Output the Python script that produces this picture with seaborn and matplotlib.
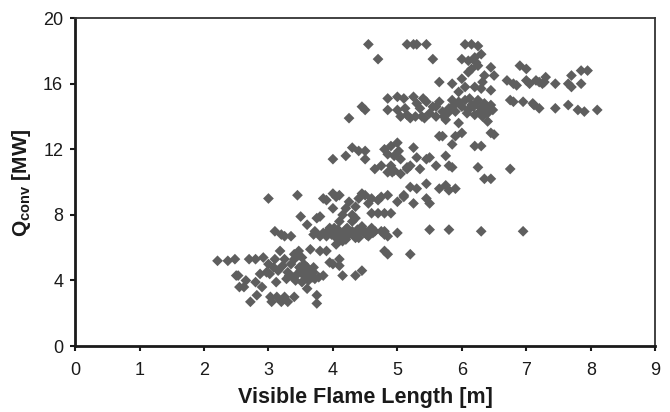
import matplotlib
matplotlib.use('Agg')
import matplotlib.pyplot as plt
import seaborn as sns
import pandas as pd

# visible flame length [m] / convective HRR [MW]
low_x = [2.21, 2.37, 2.48, 2.5, 2.53, 2.55, 2.62, 2.65, 2.7, 2.72, 2.8, 2.8, 2.82, 2.87, 2.9,
         2.92, 2.97, 3.0, 3.0, 3.02, 3.03, 3.05, 3.1, 3.12, 3.13, 3.18, 3.2, 3.25, 3.25, 3.28,
         3.3, 3.3, 3.35, 3.38, 3.4, 3.4, 3.45, 3.47, 3.5, 3.52, 3.55, 3.58, 3.6, 3.62, 3.65,
         3.7, 3.72, 3.75, 3.75, 3.78, 3.8, 3.85, 3.45, 3.5, 3.1, 3.2, 3.25, 3.35, 3.45, 3.55,
         3.6, 3.08, 3.15, 3.22, 3.32, 3.42, 3.48, 3.58, 3.68, 3.4, 3.52, 3.65, 3.7]
low_y = [5.2, 5.2, 5.3, 4.3, 4.3, 3.6, 3.6, 4.0, 5.3, 2.7, 5.3, 3.9, 3.1, 4.4, 3.6,
         5.4, 4.5, 5.0, 9.0, 4.4, 3.0, 2.7, 5.3, 3.9, 3.0, 5.8, 2.7, 5.3, 3.0, 4.1,
         2.7, 4.5, 5.0, 4.2, 3.0, 5.3, 4.4, 5.8, 4.6, 3.9, 4.3, 4.7, 3.5, 4.0, 5.9,
         4.5, 4.1, 2.6, 3.1, 4.2, 5.8, 4.3, 9.2, 7.9, 7.0, 6.8, 6.7, 6.7, 5.5, 5.0,
         4.8, 4.8, 4.6, 4.9, 4.3, 4.0, 4.8, 4.4, 4.2, 5.6, 5.4, 4.6, 4.8]

mid_x = [3.6, 3.7, 3.75, 3.8, 3.85, 3.9, 3.95, 4.0, 4.05, 4.1, 4.15, 4.2, 4.25, 4.3, 4.35,
         4.4, 4.45, 4.5, 4.55, 4.6, 4.65, 4.75, 4.8, 4.85, 4.8, 5.0, 3.9, 3.95, 4.0, 4.1,
         4.1, 4.15, 4.35, 4.45, 3.85, 3.9, 4.0, 4.05, 4.1, 4.15, 4.2, 4.25, 4.3, 4.35, 4.4,
         4.45, 4.5, 4.35, 4.0, 4.1, 4.3, 3.8, 3.92, 4.02, 4.12, 4.22, 4.32, 4.42, 4.52, 4.62,
         3.72, 3.98, 4.08, 4.18, 4.28, 4.38, 4.48, 4.05, 4.2, 4.4]
mid_y = [7.4, 6.8, 7.8, 7.9, 6.9, 6.7, 7.2, 6.9, 6.6, 7.0, 6.4, 7.1, 6.8, 7.0, 6.6,
         6.9, 7.3, 7.0, 6.7, 7.2, 7.0, 7.0, 6.8, 6.7, 7.0, 6.9, 5.8, 5.1, 5.0, 5.3,
         4.9, 4.3, 4.3, 4.6, 9.0, 8.9, 9.3, 9.1, 9.2, 8.0, 8.4, 8.8, 8.0, 8.5, 9.0,
         9.3, 9.2, 7.8, 8.4, 7.6, 7.6, 6.7, 7.0, 7.2, 6.8, 7.2, 6.9, 7.1, 6.8, 6.9,
         7.0, 6.8, 7.1, 6.7, 6.9, 7.1, 6.9, 6.2, 6.5, 6.6]

upper_x = [4.7, 4.75, 4.8, 4.85, 4.9, 4.8, 4.85, 5.0, 5.1, 5.2, 5.3, 5.25, 5.2, 5.45, 5.45,
           5.5, 5.5, 5.8, 6.3, 6.95, 5.65, 5.75, 5.8, 5.9, 4.7, 4.6, 4.0, 4.2, 4.3, 4.4,
           4.5, 4.5, 4.65, 4.75, 4.8, 4.85, 4.9, 5.0, 5.05, 4.85, 4.95, 5.05, 5.15, 5.2, 5.25,
           5.3, 5.35, 5.45, 5.5, 5.6, 5.75, 5.8, 5.85, 5.85, 5.9, 5.7, 6.2, 6.3, 6.25, 6.35,
           6.45, 6.75, 4.9, 4.95, 5.1, 5.15, 4.55, 4.6, 4.92, 5.02]
upper_y = [8.9, 9.1, 8.1, 9.2, 8.1, 5.8, 5.6, 8.8, 9.1, 9.7, 9.6, 8.7, 5.6, 9.0, 9.9,
           8.7, 7.1, 7.1, 7.0, 7.0, 9.6, 9.8, 9.5, 9.6, 8.1, 8.1, 11.4, 11.6, 12.1, 11.9,
           11.4, 11.9, 10.8, 11.0, 12.0, 11.7, 12.2, 12.4, 11.4, 10.6, 10.7, 10.5, 10.8, 11.0, 12.1,
           11.5, 10.8, 11.4, 11.5, 11.0, 11.6, 11.0, 12.3, 10.9, 12.8, 12.8, 12.2, 12.2, 10.9, 10.2,
           10.2, 10.8, 11.0, 11.6, 9.2, 10.9, 8.7, 9.0, 10.6, 11.9]

high_x = [4.25, 4.45, 4.5, 4.85, 4.85, 5.0, 5.0, 5.05, 5.1, 5.15, 5.2, 5.25, 5.3, 5.35, 5.4,
          5.45, 5.5, 5.6, 5.6, 5.65, 5.7, 5.75, 5.8, 5.85, 5.9, 5.95, 6.0, 6.05, 6.1, 6.15,
          6.2, 6.25, 6.3, 6.35, 6.4, 6.45, 6.4, 6.0, 5.95, 6.45, 6.5, 5.65, 5.28, 5.38, 5.55,
          5.72, 5.88, 6.08, 6.18, 6.28, 6.38, 6.48, 5.12, 5.42, 5.78, 6.12, 6.22, 6.32]
high_y = [13.9, 14.6, 14.4, 15.1, 14.4, 15.2, 14.4, 14.0, 15.1, 14.1, 13.9, 15.2, 14.8, 14.5, 15.1,
          14.9, 14.2, 14.0, 14.6, 14.9, 14.3, 13.8, 14.5, 15.0, 14.3, 14.9, 14.6, 15.0, 14.4, 14.7,
          14.1, 15.0, 14.5, 14.8, 14.2, 14.7, 13.7, 13.0, 13.6, 13.0, 12.9, 12.8, 14.0, 14.0, 14.6,
          14.0, 14.7, 14.2, 14.6, 14.3, 14.5, 14.4, 14.5, 13.9, 14.2, 15.1, 14.8, 14.0]

top_x = [4.55, 4.7, 5.15, 5.25, 5.3, 5.45, 5.55, 6.05, 6.15, 6.25, 6.0, 6.1, 6.2, 6.3, 6.15,
         6.25, 6.35, 6.45, 6.5, 5.85, 6.0, 6.05, 6.2, 6.3, 6.45, 5.65, 5.95, 6.1, 6.22, 6.32,
         6.7, 6.8, 6.9, 6.75, 6.8, 6.95, 7.0, 7.05, 7.1, 7.15, 7.2, 7.25, 7.3, 7.45, 7.45,
         7.65, 7.7, 7.65, 7.85, 7.8, 7.85, 7.9, 7.95, 8.1, 7.2, 7.0, 7.12, 7.28, 6.85, 7.7]
top_y = [18.4, 17.5, 18.4, 18.4, 18.4, 18.4, 17.5, 18.4, 18.4, 18.3, 17.5, 17.4, 17.6, 17.8, 16.9,
         17.1, 16.5, 17.0, 16.5, 16.0, 16.3, 15.8, 15.8, 15.7, 15.6, 16.1, 15.5, 16.7, 17.3, 16.1,
         16.2, 16.0, 17.1, 15.0, 14.9, 14.9, 16.9, 16.0, 14.8, 16.2, 14.5, 16.0, 16.4, 14.5, 16.0,
         16.0, 16.5, 14.7, 16.0, 14.4, 16.8, 14.3, 16.8, 14.4, 16.1, 16.2, 14.7, 16.1, 15.9, 15.8]

df = pd.DataFrame({
    'length': low_x + mid_x + upper_x + high_x + top_x,
    'q': low_y + mid_y + upper_y + high_y + top_y,
})

sns.set_style('ticks')
plt.rcParams['font.family'] = ['Liberation Sans', 'DejaVu Sans']
plt.rcParams['mathtext.fontset'] = 'custom'
plt.rcParams['mathtext.bf'] = 'Liberation Sans:bold'
plt.rcParams['mathtext.rm'] = 'Liberation Sans'

fig, ax = plt.subplots(figsize=(6.7, 4.12), dpi=100)
fig.subplots_adjust(left=0.112, right=0.978, top=0.956, bottom=0.16)

sns.scatterplot(data=df, x='length', y='q', marker='D', color='#5e5e5e',
                s=30, edgecolor='none', linewidth=0, ax=ax)

ax.set_xlim(0, 9)
ax.set_ylim(0, 20)
ax.set_xticks(range(0, 10))
ax.set_yticks(range(0, 21, 4))
for side in ['top', 'right']:
    ax.spines[side].set_visible(True)
    ax.spines[side].set_color('#333333')
    ax.spines[side].set_linewidth(1.3)
for side in ['left', 'bottom']:
    ax.spines[side].set_color('#1a1a1a')
    ax.spines[side].set_linewidth(2.0)
ax.tick_params(direction='out', length=3.5, width=1.5, labelsize=13, colors='#1a1a1a', pad=5)
ax.tick_params(axis='x', pad=8)
ax.set_xlabel('Visible Flame Length [m]', fontsize=15.5, fontweight='bold', labelpad=6, color='#1a1a1a')
ax.set_ylabel(r'$\mathbf{Q_{conv}}$ [MW]', fontsize=15, fontweight='bold', labelpad=7, color='#1a1a1a')

plt.savefig('out.png', dpi=100)
